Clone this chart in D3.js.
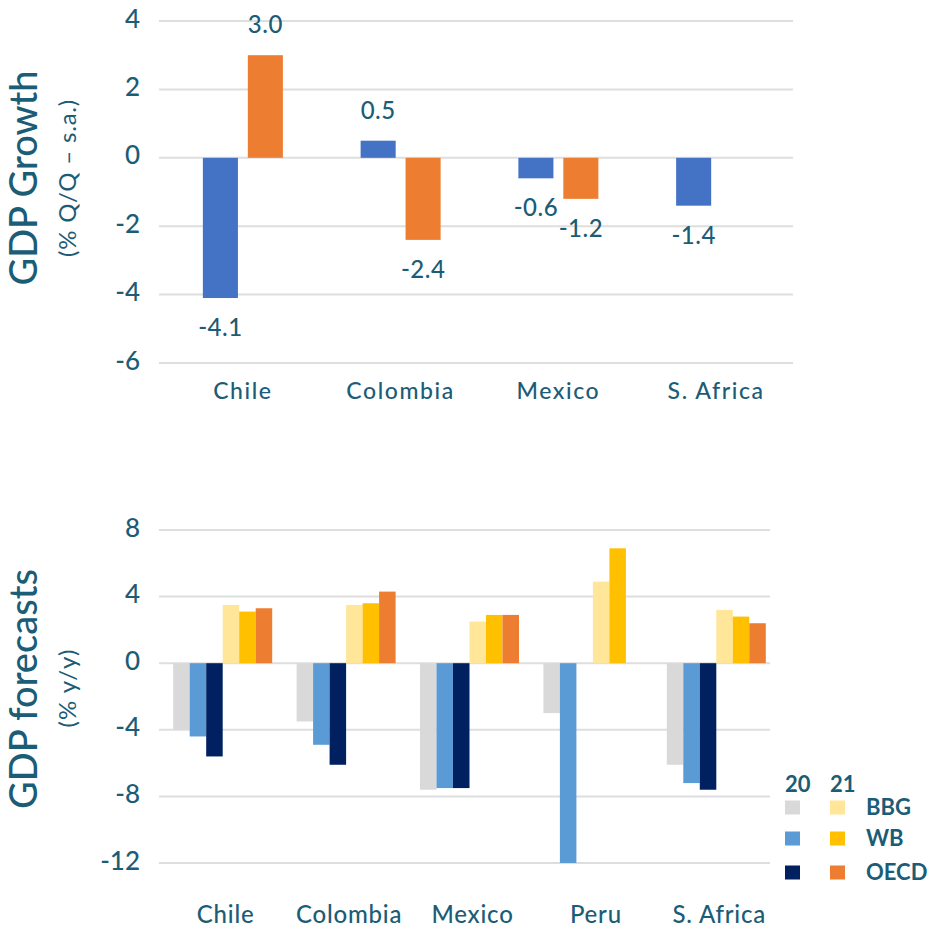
<!DOCTYPE html>
<html><head><meta charset="utf-8">
<script src="https://cdn.jsdelivr.net/npm/d3@7"></script>
<style>
html,body{margin:0;padding:0;background:#fff;}
svg text{font-family:Lato,"Open Sans",sans-serif;}
</style></head>
<body>
<svg id="chart" width="932" height="930"></svg>
<script>
// ---------- Data: top chart (GDP growth, % Q/Q s.a.) ----------
const topCategories = ["Chile", "Colombia", "Mexico", "S. Africa"];
const topSeries = ["Previous", "Latest"];
const topPrevious = [-4.1, 0.5, -0.6, -1.4];
const topLatest = [3.0, -2.4, -1.2, null];
const topTicks = [4, 2, 0, -2, -4, -6];

// ---------- Data: bottom chart (GDP forecasts, % y/y) ----------
const botCategories = ["Chile", "Colombia", "Mexico", "Peru", "S. Africa"];
const botSeries = ["BBG 20", "WB 20", "OECD 20", "BBG 21", "WB 21", "OECD 21"];
const bbg20  = [-4.0, -3.5, -7.6, -3.0, -6.1];
const wb20   = [-4.4, -4.9, -7.5, -12.0, -7.2];
const oecd20 = [-5.6, -6.1, -7.5, null, -7.6];
const bbg21  = [3.5, 3.5, 2.5, 4.9, 3.2];
const wb21   = [3.1, 3.6, 2.9, 6.9, 2.8];
const oecd21 = [3.3, 4.3, 2.9, null, 2.4];
const botTicks = [8, 4, 0, -4, -8, -12];
const legendYears = ["20", "21"];
const legendSources = ["BBG", "WB", "OECD"];

const TEAL = "#1b5c76";
const GRID = "#dedede";
const svg = d3.select("#chart");

// ================= TOP CHART =================
const yTop = d3.scaleLinear().domain([-6, 4]).range([363, 21]);
const xTop = d3.scaleBand().domain(topCategories).range([164, 795]);
const xTopInner = d3.scaleBand().domain(topSeries).range([-40, 40]).paddingInner(0.22);
const topColor = d3.scaleOrdinal().domain(topSeries).range(["#4472c4", "#ed7d31"]);

const gTop = svg.append("g");
gTop.selectAll("line.grid").data(topTicks).join("line")
  .attr("x1", 159).attr("x2", 793)
  .attr("y1", d => yTop(d)).attr("y2", d => yTop(d))
  .attr("stroke", GRID).attr("stroke-width", 2);
gTop.selectAll("text.tick").data(topTicks).join("text")
  .attr("x", 140).attr("y", d => yTop(d)).attr("text-anchor", "end")
  .attr("dominant-baseline", "middle").attr("fill", TEAL)
  .attr("font-size", 26).attr("font-weight", 500).text(d => d);

const topData = [];
topCategories.forEach((c, i) => {
  [topPrevious, topLatest].forEach((arr, j) => {
    if (arr[i] !== null) topData.push({cat: c, s: topSeries[j], v: arr[i]});
  });
});
gTop.selectAll("rect").data(topData).join("rect")
  .attr("x", d => xTop(d.cat) + xTop.bandwidth() / 2 + xTopInner(d.s))
  .attr("width", xTopInner.bandwidth())
  .attr("y", d => Math.min(yTop(d.v), yTop(0)))
  .attr("height", d => Math.abs(yTop(d.v) - yTop(0)))
  .attr("fill", d => topColor(d.s));
gTop.selectAll("text.val").data(topData).join("text")
  .attr("x", d => xTop(d.cat) + xTop.bandwidth() / 2 + xTopInner(d.s) + xTopInner.bandwidth() / 2)
  .attr("y", d => d.v >= 0 ? yTop(d.v) - 28 : yTop(d.v) + 32)
  .attr("text-anchor", "middle").attr("dominant-baseline", "middle")
  .attr("fill", TEAL).attr("font-size", 24).attr("font-weight", 500)
  .attr("letter-spacing", 0.5)
  .text(d => d3.format(".1f")(d.v).replace("−", "-"));
gTop.selectAll("text.cat").data(topCategories).join("text")
  .attr("x", d => xTop(d) + xTop.bandwidth() / 2).attr("y", 393)
  .attr("text-anchor", "middle").attr("dominant-baseline", "middle")
  .attr("fill", TEAL).attr("font-size", 23).attr("font-weight", 500)
  .attr("letter-spacing", 1.6).text(d => d);
gTop.append("text").attr("transform", "translate(37,178) rotate(-90)")
  .attr("text-anchor", "middle")
  .attr("fill", TEAL).attr("font-size", 38).attr("font-weight", 500).text("GDP Growth");
gTop.append("text").attr("transform", "translate(76,178) rotate(-90)")
  .attr("text-anchor", "middle")
  .attr("fill", TEAL).attr("font-size", 24).attr("letter-spacing", 0.8).text("(% Q/Q – s.a.)");

// ================= BOTTOM CHART =================
const yBot = d3.scaleLinear().domain([-12, 8]).range([863, 530]);
const xBot = d3.scaleBand().domain(botCategories).range([161, 778]);
const xBotInner = d3.scaleBand().domain(botSeries).range([-49.5, 49.5]);
const botColor = d3.scaleOrdinal().domain(botSeries)
  .range(["#d9d9d9", "#5b9bd5", "#002060", "#ffe699", "#ffc000", "#ed7d31"]);

const gBot = svg.append("g");
gBot.selectAll("line.grid").data(botTicks).join("line")
  .attr("x1", 159).attr("x2", 770)
  .attr("y1", d => yBot(d)).attr("y2", d => yBot(d))
  .attr("stroke", GRID).attr("stroke-width", 2);
gBot.selectAll("text.tick").data(botTicks).join("text")
  .attr("x", 140).attr("y", d => yBot(d)).attr("text-anchor", "end")
  .attr("dominant-baseline", "middle").attr("fill", TEAL)
  .attr("font-size", 26).attr("font-weight", 500).text(d => d);

const botArrays = [bbg20, wb20, oecd20, bbg21, wb21, oecd21];
const botData = [];
botCategories.forEach((c, i) => {
  botArrays.forEach((arr, j) => {
    if (arr[i] !== null) botData.push({cat: c, s: botSeries[j], v: arr[i]});
  });
});
gBot.selectAll("rect").data(botData).join("rect")
  .attr("x", d => xBot(d.cat) + xBot.bandwidth() / 2 + xBotInner(d.s))
  .attr("width", xBotInner.bandwidth())
  .attr("y", d => Math.min(yBot(d.v), yBot(0)))
  .attr("height", d => Math.abs(yBot(d.v) - yBot(0)))
  .attr("fill", d => botColor(d.s));
gBot.selectAll("text.cat").data(botCategories).join("text")
  .attr("x", d => xBot(d) + xBot.bandwidth() / 2 + 3).attr("y", 917)
  .attr("text-anchor", "middle").attr("dominant-baseline", "middle")
  .attr("fill", TEAL).attr("font-size", 24).attr("font-weight", 500)
  .attr("letter-spacing", 0.8).text(d => d);
gBot.append("text").attr("transform", "translate(37,689) rotate(-90)")
  .attr("text-anchor", "middle")
  .attr("fill", TEAL).attr("font-size", 38).attr("font-weight", 500).text("GDP forecasts");
gBot.append("text").attr("transform", "translate(76,688) rotate(-90)")
  .attr("text-anchor", "middle")
  .attr("fill", TEAL).attr("font-size", 24).attr("letter-spacing", 1).text("(% y/y)");

// Legend
const gLeg = svg.append("g");
const legX = [785, 830];
gLeg.selectAll("text.yr").data(legendYears).join("text")
  .attr("x", (d, i) => legX[i]).attr("y", 786)
  .attr("dominant-baseline", "middle").attr("fill", TEAL)
  .attr("font-size", 22).attr("font-weight", "bold").text(d => d);
const legRows = [808, 839, 873];
botSeries.forEach((s, k) => {
  const col = Math.floor(k / 3), row = k % 3;
  gLeg.append("rect").attr("x", legX[col]).attr("y", legRows[row] - 7.5)
    .attr("width", 15).attr("height", 14).attr("fill", botColor(s));
});
gLeg.selectAll("text.src").data(legendSources).join("text")
  .attr("x", 866).attr("y", (d, i) => legRows[i] + 1)
  .attr("dominant-baseline", "middle").attr("fill", TEAL)
  .attr("font-size", 22).attr("font-weight", "bold").text(d => d);
</script>
</body></html>
